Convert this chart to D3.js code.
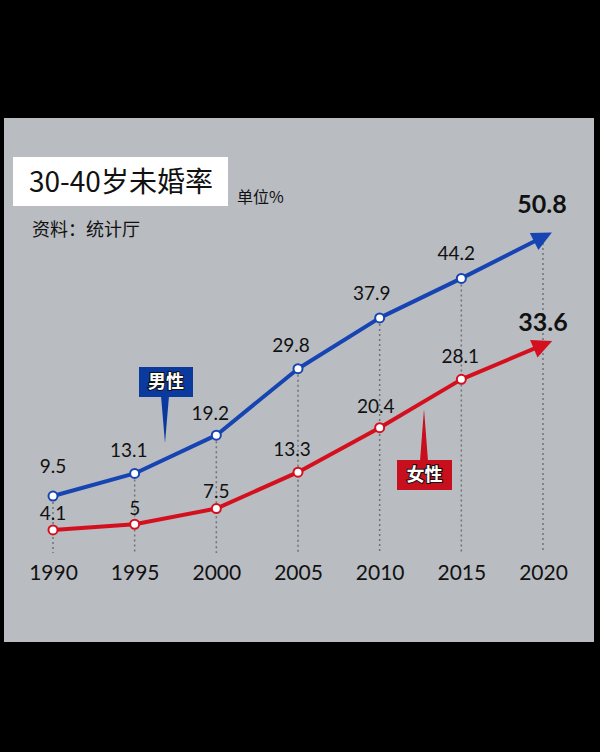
<!DOCTYPE html>
<html>
<head>
<meta charset="utf-8">
<script src="https://cdn.jsdelivr.net/npm/d3@7"></script>
<style>
    body { margin: 0; background: #000; }
    svg { display: block; }
</style>
</head>
<body>
<div class="chart"></div>
<script>
// Data
const years = [1990, 1995, 2000, 2005, 2010, 2015, 2020];
const maleRates = [9.5, 13.1, 19.2, 29.8, 37.9, 44.2, 50.8];
const femaleRates = [4.1, 5, 7.5, 13.3, 20.4, 28.1, 33.6];
const maleLabels = ['9.5', '13.1', '19.2', '29.8', '37.9', '44.2', '50.8'];
const femaleLabels = ['4.1', '5', '7.5', '13.3', '20.4', '28.1', '33.6'];

// label nudges (layout only)
const maleLabelDx = [0, -6, -6, -7, -8, -5, -1];
const maleLabelDy = [-23, -16, -15, -17, -18, -18, -24];
const femaleLabelDx = [0, 0, 0, -6, -4, -1, 0];
const femaleLabelDy = [-10, -9, -11, -16, -15, -16, -14];

const numFont = 'Lato, "DejaVu Sans", sans-serif';
const cjkFont = '"Noto Sans CJK SC", "Noto Sans", sans-serif';

const svgWidth = 600;
const svgHeight = 752;

const svg = d3.select('.chart')
    .append('svg')
    .attr('width', svgWidth)
    .attr('height', svgHeight);

// black frame + grey panel
svg.append('rect')
    .attr('width', svgWidth)
    .attr('height', svgHeight)
    .attr('fill', '#000');

svg.append('rect')
    .attr('x', 4)
    .attr('y', 118)
    .attr('width', 590)
    .attr('height', 524)
    .attr('fill', '#b9bcc1');

// Scales
const xScale = d3.scalePoint()
    .domain(years)
    .range([53, 543]);

const yScale = d3.scaleLinear()
    .domain([0, 50.8])
    .range([555.6, 237]);

const baseY = 553;

// Title
svg.append('rect')
    .attr('x', 13)
    .attr('y', 157)
    .attr('width', 215)
    .attr('height', 49)
    .attr('fill', '#fff');

svg.append('text')
    .attr('x', 29)
    .attr('y', 192)
    .style('font-family', cjkFont)
    .style('font-size', '28px')
    .attr('fill', '#111')
    .text('30-40岁未婚率');

svg.append('text')
    .attr('x', 237)
    .attr('y', 203)
    .style('font-family', cjkFont)
    .style('font-size', '16px')
    .attr('fill', '#111')
    .text('单位%');

svg.append('text')
    .attr('x', 32)
    .attr('y', 236)
    .style('font-family', cjkFont)
    .style('font-size', '18px')
    .attr('fill', '#111')
    .text('资料：统计厅');

// Dotted drop lines from top series
svg.selectAll('.drop')
    .data(years)
    .enter()
    .append('line')
    .attr('class', 'drop')
    .attr('x1', d => xScale(d))
    .attr('x2', d => xScale(d))
    .attr('y1', (d, i) => yScale(maleRates[i]) + 6)
    .attr('y2', baseY)
    .attr('stroke', '#6f7277')
    .attr('stroke-width', 1.5)
    .attr('stroke-dasharray', '2,3');

// Year axis labels
const xAxis = d3.axisBottom(xScale).tickSize(0).tickPadding(0);
const xAxisDraw = svg.append('g')
    .attr('class', 'x axis')
    .attr('transform', 'translate(0, 563)');
xAxis(xAxisDraw);
xAxisDraw.select('.domain').remove();
xAxisDraw.selectAll('text')
    .attr('dy', '0.8em')
    .style('font-family', numFont)
    .style('font-size', '21px')
    .attr('fill', '#111');

// Arrow markers
const defs = svg.append('defs');
function addArrow(id, color) {
    defs.append('marker')
        .attr('id', id)
        .attr('markerUnits', 'userSpaceOnUse')
        .attr('viewBox', '-12 -11 24 22')
        .attr('refX', 0)
        .attr('refY', 0)
        .attr('markerWidth', 24)
        .attr('markerHeight', 22)
        .attr('orient', 'auto')
        .append('path')
        .attr('d', 'M-10,-9.5L10,0L-10,9.5Z')
        .attr('fill', color);
}
addArrow('arrow-male', '#1744b3');
addArrow('arrow-female', '#d5101e');

const line = d3.line()
    .x((d, i) => xScale(years[i]))
    .y(d => yScale(d));

function drawSeries(values, labels, dx, dy, color, arrowId) {
    const g = svg.append('g');

    g.append('path')
        .datum(values)
        .attr('d', line)
        .attr('fill', 'none')
        .attr('stroke', color)
        .attr('stroke-width', 4)
        .attr('stroke-linejoin', 'round')
        .attr('marker-end', 'url(#' + arrowId + ')');

    g.selectAll('.dot')
        .data(values.slice(0, -1))
        .enter()
        .append('circle')
        .attr('class', 'dot')
        .attr('cx', (d, i) => xScale(years[i]))
        .attr('cy', d => yScale(d))
        .attr('r', 4.5)
        .attr('fill', '#fff')
        .attr('stroke', color)
        .attr('stroke-width', 2);

    g.selectAll('.val')
        .data(values)
        .enter()
        .append('text')
        .attr('class', 'val')
        .attr('x', (d, i) => xScale(years[i]) + dx[i])
        .attr('y', (d, i) => yScale(d) + dy[i])
        .attr('text-anchor', 'middle')
        .style('font-family', numFont)
        .style('font-size', (d, i) => i === values.length - 1 ? '25px' : '19px')
        .style('font-weight', (d, i) => i === values.length - 1 ? 'bold' : 'normal')
        .attr('fill', '#111')
        .text((d, i) => labels[i]);
}

drawSeries(maleRates, maleLabels, maleLabelDx, maleLabelDy, '#1744b3', 'arrow-male');
drawSeries(femaleRates, femaleLabels, femaleLabelDx, femaleLabelDy, '#d5101e', 'arrow-female');

// Callout tags
function callout(x, y, w, h, tipX, tipY, color, label) {
    const g = svg.append('g');
    const boxBottom = y + h;
    const pointerDown = tipY > boxBottom;
    const baseEdge = pointerDown ? boxBottom - 1 : y + 1;
    g.append('path')
        .attr('d', 'M' + (tipX - 4) + ',' + baseEdge + 'L' + tipX + ',' + tipY + 'L' + (tipX + 4) + ',' + baseEdge + 'Z')
        .attr('fill', color);
    g.append('rect')
        .attr('x', x)
        .attr('y', y)
        .attr('width', w)
        .attr('height', h)
        .attr('fill', color);
    g.append('text')
        .attr('x', x + w / 2)
        .attr('y', y + h / 2 + 6)
        .attr('text-anchor', 'middle')
        .style('font-family', cjkFont)
        .style('font-size', '18px')
        .style('font-weight', 'bold')
        .style('paint-order', 'stroke')
        .attr('stroke', '#111')
        .attr('stroke-width', 2)
        .attr('fill', '#fff')
        .text(label);
}

callout(139, 367, 54, 30, 165, 443, '#0b3a9e', '男性');
callout(397, 460, 55, 30, 424, 409, '#c80f1d', '女性');
</script>
</body>
</html>
